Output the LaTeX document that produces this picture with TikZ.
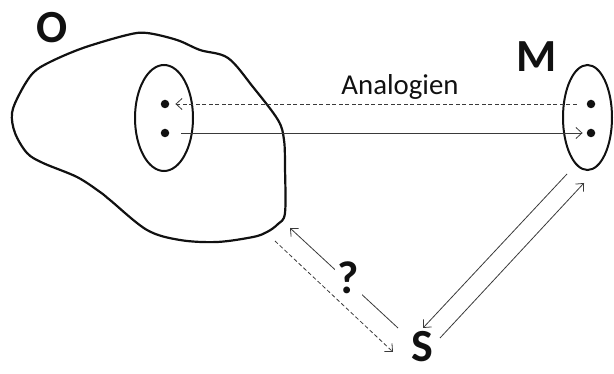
\documentclass[tikz,border=0pt]{standalone}
\usepackage{fontspec}
\setmainfont{Carlito}
\usepackage{tikz}
\usetikzlibrary{arrows.meta,positioning,shapes.geometric}
\definecolor{ink}{HTML}{111111}
\definecolor{thin}{HTML}{3A3A3A}

\begin{document}
\begin{tikzpicture}[x=1pt,y=-1pt,
  oval/.style={draw=ink,ellipse,line width=2pt,inner sep=0pt},
  pt/.style={circle,fill=ink,minimum size=8.5pt,inner sep=0pt},
  big/.style={font=\fontsize{46}{50}\selectfont\bfseries,text=ink,inner sep=0pt,anchor=base},
  lbl/.style={font=\fontsize{28.8}{32}\selectfont,text=ink,inner sep=0pt,anchor=base},
  arr/.style={-{Straight Barb[length=6pt,width=11pt]},draw=thin,line width=0.8pt},
  darr/.style={arr,dash pattern=on 4pt off 2.5pt}
]
\useasboundingbox (0,0) rectangle (614,374);
% object region
\draw[ink,line width=2.2pt] plot[smooth cycle,tension=0.55] coordinates {
  (12,113) (20,93) (33,73) (50,62) (83,48) (127,35) (147,33) (177,40)
  (200,50) (228,58) (253,87) (278,120) (284,140) (285,167) (285,213)
  (278,224) (267,232) (253,237) (217,242) (180,240) (147,230) (110,200)
  (100,192) (77,177) (43,163) (27,153) (15,133)};
\node[oval,minimum width=58pt,minimum height=106pt] (oin) at (164,118) {};
\node[oval,minimum width=49pt,minimum height=105pt] (min) at (587.5,117.5) {};
\node[pt] (o1) at (165,104) {};
\node[pt] (o2) at (165,133) {};
\node[pt] (m1) at (591,104) {};
\node[pt] (m2) at (591,133) {};
% labels
\node[big] (olab) at (52.5,42.5) {O};
\node[big] (mlab) at (537,72) {M};
\node[big] (slab) at (422,362) {S};
\node[lbl] (ana) at (400,95) {Analogien};
% free ends of the diagonal connectors
\coordinate (os1) at (398,328);
\coordinate (os2) at (290,228);
\coordinate (os3) at (275,241);
\coordinate (os4) at (393,352);
\coordinate (ms1) at (567,174);
\coordinate (ms2) at (423,328);
\coordinate (ms3) at (440,338);
\coordinate (ms4) at (584,183);
% connectors
\draw[darr,shorten <=10pt,shorten >=6pt] (m1) -- (o1);
\draw[arr,shorten <=12pt,shorten >=4pt] (o2) -- (m2);
\draw[arr] (os1) -- (os2);
\draw[darr] (os3) -- (os4);
\draw[arr] (ms1) -- (ms2);
\draw[arr] (ms3) -- (ms4);
\node[big,anchor=center,fill=white,inner sep=3pt] (q) at (348.5,277.5) {?};
\end{tikzpicture}
\end{document}
